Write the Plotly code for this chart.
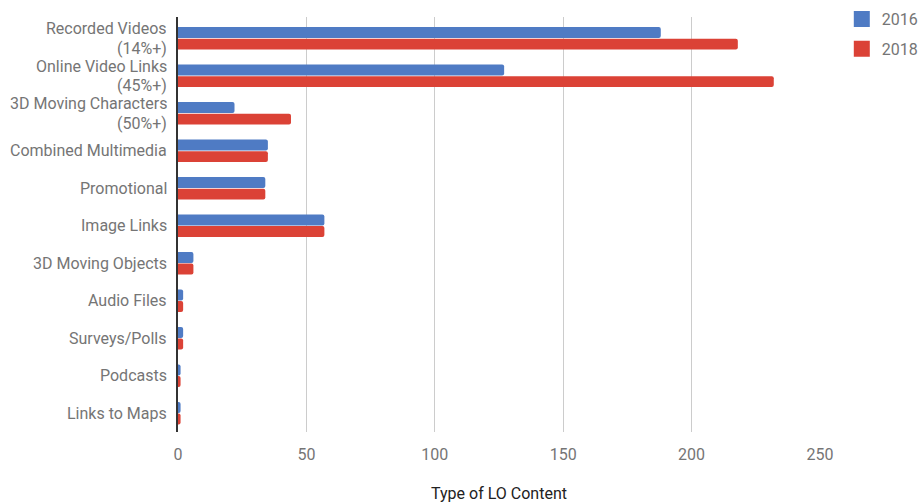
import plotly.graph_objects as go

categories = ["Recorded Videos<br>(14%+)", "Online Video Links<br>(45%+)",
              "3D Moving Characters<br>(50%+)", "Combined Multimedia", "Promotional",
              "Image Links", "3D Moving Objects", "Audio Files", "Surveys/Polls",
              "Podcasts", "Links to Maps"]
values_2016 = [188, 127, 22, 35, 34, 57, 6, 2, 2, 1, 1]
values_2018 = [218, 232, 44, 35, 34, 57, 6, 2, 2, 1, 1]
series_names = ["2016", "2018"]
colors = ["#4f7bc4", "#db4236"]
x_ticks = [0, 50, 100, 150, 200, 250]

LABEL_FONT = dict(family="Roboto", size=16, color="#757575")

fig = go.Figure()
for name, vals, col in zip(series_names, [values_2016, values_2018], colors):
    fig.add_trace(go.Bar(y=categories, x=vals, orientation="h", name=name,
                         showlegend=False, legendgroup=name,
                         marker=dict(color=col, line=dict(width=0))))
# legend-only entries with larger swatches
for name, col in zip(series_names, colors):
    fig.add_trace(go.Scatter(y=[None], x=[None], mode="markers", name=name,
                             legendgroup=name, showlegend=True,
                             marker=dict(symbol="square", size=16, color=col)))

# category labels (multi-line ones with tighter line spacing)
for cat in categories:
    lines = cat.split("<br>")
    if len(lines) == 1:
        fig.add_annotation(x=0, y=cat, xref="x", yref="y", text=lines[0], showarrow=False,
                           xanchor="right", yanchor="middle", xshift=-9, font=LABEL_FONT)
    else:
        for line, shift in zip(lines, [9.8, -9.8]):
            fig.add_annotation(x=0, y=cat, xref="x", yref="y", text=line, showarrow=False,
                               xanchor="right", yanchor="middle", xshift=-9, yshift=shift,
                               font=LABEL_FONT, height=19)

fig.update_layout(
    width=920, height=503,
    margin=dict(l=178, r=100, t=17, b=71, autoexpand=False),
    paper_bgcolor="white", plot_bgcolor="white",
    barmode="group", bargap=0.38, bargroupgap=0.06, barcornerradius=2,
    font=LABEL_FONT,
    legend=dict(xref="container", yref="container", x=0.915, y=0.996,
                xanchor="left", yanchor="top",
                font=dict(size=16, color="#757575"), tracegroupgap=6,
                itemwidth=30, bgcolor="rgba(0,0,0,0)"),
    showlegend=True,
)
fig.update_xaxes(range=[0, 250], tickvals=x_ticks, showgrid=True, gridcolor="#cccccc",
                 gridwidth=1, zeroline=False, showline=False, ticklabelstandoff=11,
                 tickfont=dict(size=16, color="#757575"),
                 title=dict(text="Type of LO Content", font=dict(size=16, color="#222222"),
                            standoff=24))
fig.update_yaxes(autorange="reversed", showline=True, linecolor="#333333", linewidth=1.5,
                 showgrid=False, ticks="", showticklabels=False)

fig.write_html("out.html")
